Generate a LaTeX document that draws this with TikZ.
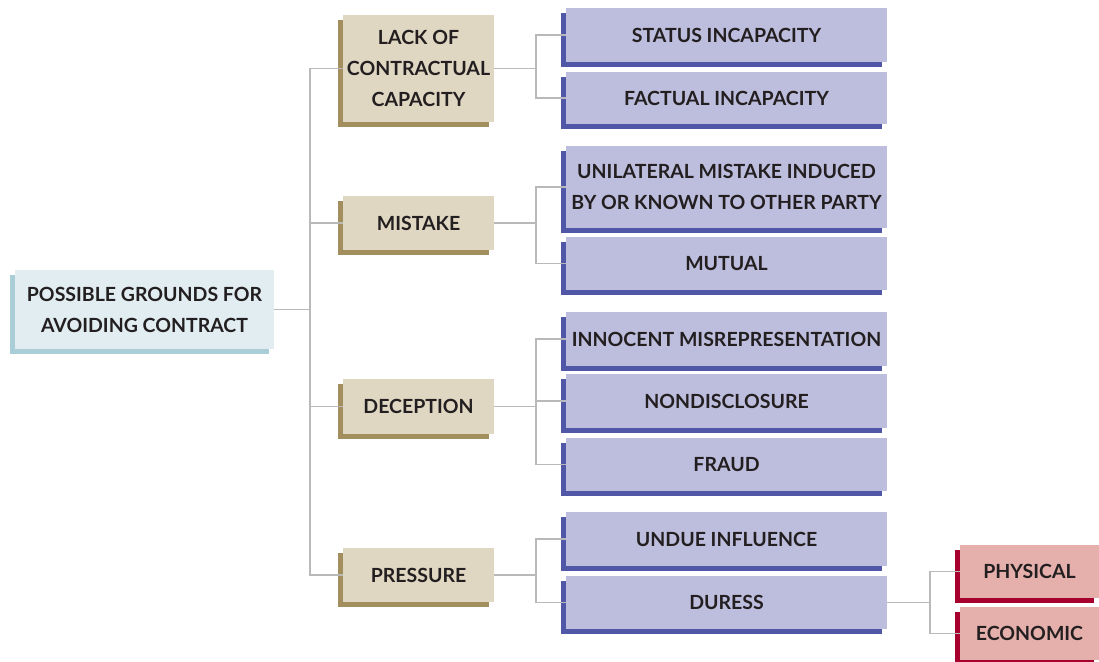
\documentclass[tikz,border=0pt]{standalone}
\usepackage{fontspec}
\setmainfont{Lato}
\usepackage{tikz}
\usetikzlibrary{shadows}

\definecolor{rootface}{HTML}{E1EDF1}
\definecolor{rootshade}{HTML}{A9CED8}
\definecolor{groupface}{HTML}{E0D7C3}
\definecolor{groupshade}{HTML}{A38F5E}
\definecolor{caseface}{HTML}{BDBDDD}
\definecolor{caseshade}{HTML}{4F57A6}
\definecolor{subface}{HTML}{E5B0AC}
\definecolor{subshade}{HTML}{A8002E}
\definecolor{linkgray}{HTML}{B9B9B9}
\definecolor{inkdark}{HTML}{231F20}

\begin{document}
\begin{tikzpicture}[x=1pt, y=-1pt,
    card/.style={inner sep=0pt, align=center, text=inkdark,
        font=\fontsize{19.5}{31}\selectfont\bfseries},
    rootbox/.style={card, fill=rootface, minimum width=259pt, minimum height=79pt,
        general shadow={fill=rootshade, shadow xshift=-5pt, shadow yshift=-5pt}},
    groupbox/.style={card, fill=groupface, minimum width=151pt, minimum height=#1,
        general shadow={fill=groupshade, shadow xshift=-5pt, shadow yshift=-5pt}},
    casebox/.style={card, fill=caseface, minimum width=321pt, minimum height=#1,
        general shadow={fill=caseshade, shadow xshift=-5pt, shadow yshift=-5pt}},
    subbox/.style={card, fill=subface, minimum width=139pt, minimum height=53pt,
        general shadow={fill=subshade, shadow xshift=-5pt, shadow yshift=-5pt}},
    link/.style={draw=linkgray, line width=1.5pt}]

    \useasboundingbox (0,0) rectangle (1099,661);

    % root
    \draw(144.5,309.5) node[rootbox] (G) {POSSIBLE GROUNDS FOR\\AVOIDING CONTRACT};

    % groups
    \draw(418.5,68.5) node[groupbox=107pt] (L) {LACK OF\\CONTRACTUAL\\CAPACITY};
    \draw(418.5,223) node[groupbox=54pt] (M) {MISTAKE};
    \draw(418.5,406.5) node[groupbox=55pt] (D) {DECEPTION};
    \draw(418.5,575) node[groupbox=54pt] (P) {PRESSURE};

    % cases
    \draw(726.5,35) node[casebox=54pt] (L1) {STATUS INCAPACITY};
    \draw(726.5,98) node[casebox=52pt] (L2) {FACTUAL INCAPACITY};
    \draw(726.5,187) node[casebox=82pt] (M1) {UNILATERAL MISTAKE INDUCED\\BY OR KNOWN TO OTHER PARTY};
    \draw(726.5,263.5) node[casebox=53pt] (M2) {MUTUAL};
    \draw(726.5,339) node[casebox=54pt] (D1) {INNOCENT MISREPRESENTATION};
    \draw(726.5,401) node[casebox=54pt] (D2) {NONDISCLOSURE};
    \draw(726.5,464.5) node[casebox=53pt] (D3) {FRAUD};
    \draw(726.5,539) node[casebox=54pt] (P1) {UNDUE INFLUENCE};
    \draw(726.5,602.5) node[casebox=53pt] (P2) {DURESS};

    % duress kinds
    \draw(1029.5,571.5) node[subbox] (P21) {PHYSICAL};
    \draw(1029.5,633.5) node[subbox] (P22) {ECONOMIC};

    % connectors
    \draw[link] (G.east) -- ++(36,0) |- (L.west);
    \draw[link] (G.east) -- ++(36,0) |- (M.west);
    \draw[link] (G.east) -- ++(36,0) |- (D.west);
    \draw[link] (G.east) -- ++(36,0) |- (P.west);

    \draw[link] (L.east) -- ++(42,0) |- (L1.west);
    \draw[link] (L.east) -- ++(42,0) |- (L2.west);
    \draw[link] (M.east) -- ++(42,0) |- (M1.west);
    \draw[link] (M.east) -- ++(42,0) |- (M2.west);
    \draw[link] (D.east) -- ++(42,0) |- (D1.west);
    \draw[link] (D.east) -- ++(42,0) |- (D2.west);
    \draw[link] (D.east) -- ++(42,0) |- (D3.west);
    \draw[link] (P.east) -- ++(42,0) |- (P1.west);
    \draw[link] (P.east) -- ++(42,0) |- (P2.west);

    \draw[link] (P2.east) -- ++(43,0) |- (P21.west);
    \draw[link] (P2.east) -- ++(43,0) |- (P22.west);

\end{tikzpicture}
\end{document}
